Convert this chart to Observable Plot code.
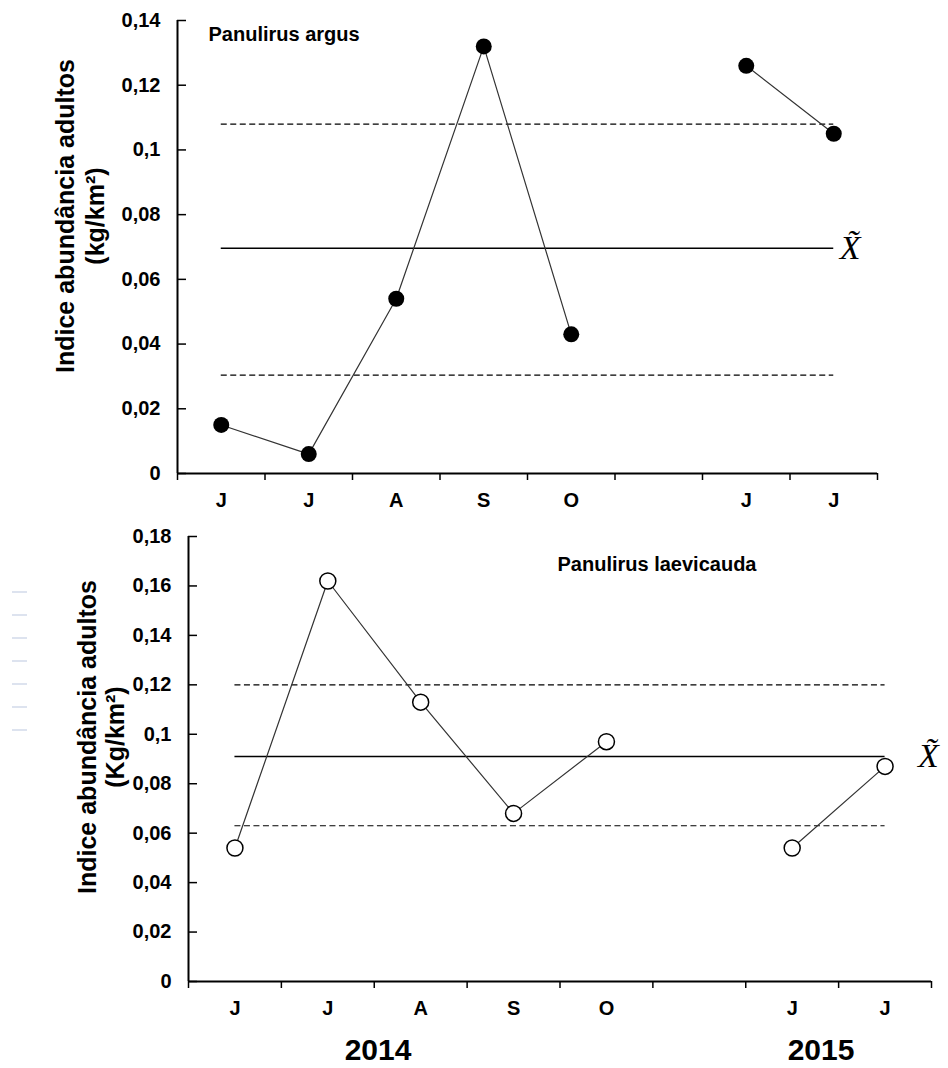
<!DOCTYPE html>
<html>
<head>
<meta charset="utf-8">
<script src="https://cdn.jsdelivr.net/npm/d3@7"></script>
<script src="https://cdn.jsdelivr.net/npm/@observablehq/plot@0.6"></script>
<style>
  html, body { margin: 0; padding: 0; background: #fff; }
  #page { position: relative; width: 948px; height: 1068px; overflow: hidden; font-family: "Liberation Sans", Arial, sans-serif; }
  .panel { position: absolute; left: 0; }
  .ylab { position: absolute; width: 420px; text-align: center; font-weight: bold; white-space: nowrap; transform: rotate(-90deg); color: #000; }
  .year { position: absolute; font-weight: bold; font-size: 30px; line-height: 26px; transform: translateX(-50%); color: #000; }
  .marks { position: absolute; left: 12px; top: 591px; width: 15px; height: 142px;
           background: repeating-linear-gradient(to bottom, #dde3ef 0 2px, transparent 2px 23px); }
</style>
</head>
<body>
<div id="page">
  <div id="top" class="panel" style="top:0"></div>
  <div id="bottom" class="panel" style="top:510px"></div>
  <div class="ylab" style="left:-130px; top:186px; font-size:25px; line-height:30px;">Indice abundância adultos<br>(kg/km²)</div>
  <div class="ylab" style="left:-109px; top:709px; font-size:25px; line-height:28px;">Indice abundância adultos<br>(Kg/km²)</div>
  <div class="year" style="left:378px; top:1037px;">2014</div>
  <div class="year" style="left:821px; top:1037px;">2015</div>
  <div class="marks"></div>
</div>
<script>
// ---- data ----
const months = ["J", "J", "A", "S", "O", "", "J", "J"];
const argusValues = [0.015, 0.006, 0.054, 0.132, 0.043, null, 0.126, 0.105];
const argusMedian = 0.0696;
const argusLimits = [0.0304, 0.108];
const laevicaudaValues = [0.054, 0.162, 0.113, 0.068, 0.097, null, 0.054, 0.087];
const laevicaudaMedian = 0.091;
const laevicaudaLimits = [0.063, 0.12];
const argusTicks = [0, 0.02, 0.04, 0.06, 0.08, 0.1, 0.12, 0.14];
const laevicaudaTicks = [0, 0.02, 0.04, 0.06, 0.08, 0.1, 0.12, 0.14, 0.16, 0.18];

const fmt = d => d === 0 ? "0" : String(+d.toFixed(2)).replace(".", ",");

function panel({values, median, limits, yTicks, title, titleDx, titleDy, filled,
                width, height, marginLeft, marginRight, marginTop, marginBottom, xDx, labelSize}) {
  const data = months.map((m, i) => ({i: i + 0.5, m, v: values[i]}));
  const x1 = data[0].i, x2 = data[data.length - 1].i;
  const bounds = d3.range(0, months.length + 1);
  const centers = data.map(d => d.i);
  const pxPerUnit = (width - marginLeft - marginRight) / months.length;
  const tickLen = 9 / pxPerUnit;
  return Plot.plot({
    width, height, marginLeft, marginRight, marginTop, marginBottom,
    style: {fontFamily: "'Liberation Sans', Arial, sans-serif", fontWeight: "bold", fontSize: labelSize + "px", color: "#000", background: "#fff", overflow: "visible"},
    x: {type: "linear", domain: [0, months.length], axis: null},
    y: {domain: [yTicks[0], yTicks[yTicks.length - 1]], axis: null},
    marks: [
      Plot.ruleY(limits, {x1, x2, stroke: "#000", strokeWidth: 1.2, strokeDasharray: "6,3.5"}),
      Plot.ruleY([median], {x1, x2, stroke: "#000", strokeWidth: 1.6}),
      Plot.text([median], {x: x2, y: d => d, text: () => "X\u0303", dx: xDx, textAnchor: "start", lineAnchor: "middle",
        fontFamily: "'Liberation Serif', 'Times New Roman', serif", fontStyle: "italic", fontWeight: "normal", fontSize: 34}),
      Plot.line(data, {x: "i", y: "v", stroke: "#333", strokeWidth: 1.2}),
      Plot.dot(data, {x: "i", y: "v", r: 8, fill: filled ? "#000" : "#fff", stroke: "#000", strokeWidth: filled ? 0 : 1.5}),
      Plot.ruleY(yTicks, {x1: 0, x2: tickLen, stroke: "#000", strokeWidth: 1.5}),
      Plot.ruleX([0], {stroke: "#000", strokeWidth: 2}),
      Plot.ruleY([0], {stroke: "#000", strokeWidth: 2}),
      Plot.axisY({ticks: yTicks, tickSize: 0, tickPadding: 17, tickFormat: fmt, label: null}),
      Plot.axisX({ticks: bounds, tickSize: 7, tickFormat: () => "", strokeWidth: 1.5, label: null}),
      Plot.axisX({ticks: centers, tickSize: 0, tickPadding: 19, tickFormat: d => months[Math.floor(d)], label: null}),
      Plot.text([title], {frameAnchor: "top-left", dx: titleDx, dy: titleDy, textAnchor: "start", lineAnchor: "top", fontSize: 20, fontWeight: "bold"})
    ]
  });
}

document.getElementById("top").append(panel({
  values: argusValues, median: argusMedian, limits: argusLimits, yTicks: argusTicks,
  title: "Panulirus argus", titleDx: 31, titleDy: 6, filled: true,
  width: 948, height: 510, marginLeft: 177, marginRight: 71, marginTop: 20, marginBottom: 37, xDx: 6, labelSize: 20
}));
document.getElementById("bottom").append(panel({
  values: laevicaudaValues, median: laevicaudaMedian, limits: laevicaudaLimits, yTicks: laevicaudaTicks,
  title: "Panulirus laevicauda", titleDx: 369, titleDy: 20, filled: false,
  width: 948, height: 558, marginLeft: 188, marginRight: 17, marginTop: 26, marginBottom: 87, xDx: 33, labelSize: 20
}));
</script>
</body>
</html>
